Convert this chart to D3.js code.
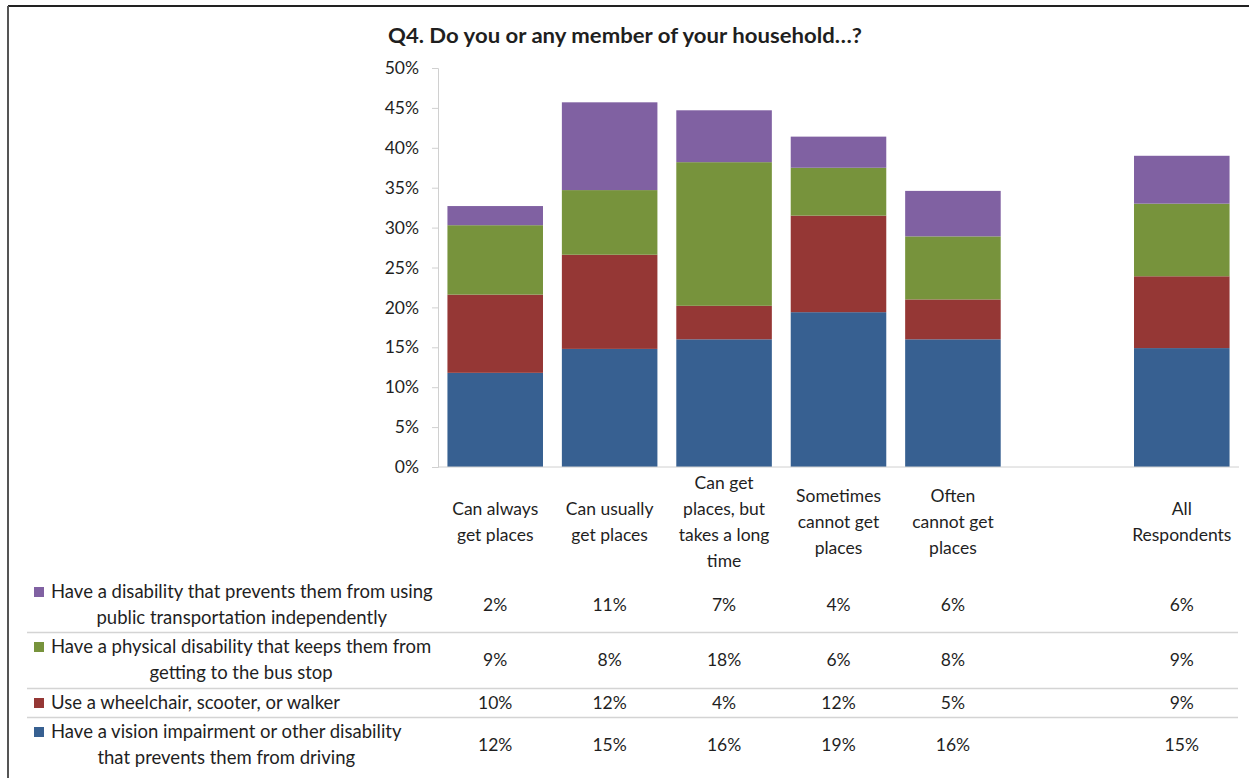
<!DOCTYPE html>
<html>
<head>
<meta charset="utf-8">
<script src="https://cdn.jsdelivr.net/npm/d3@7"></script>
<style>
  html, body { margin: 0; padding: 0; background: #fff; }
  svg { display: block; }
  text { font-family: Lato, "Open Sans", sans-serif; fill: #1f1f1f; }
</style>
</head>
<body>
<svg id="chart" width="1249" height="778"></svg>
<script>
// ---- data ----
const categories = [
  "Can always get places",
  "Can usually get places",
  "Can get places, but takes a long time",
  "Sometimes cannot get places",
  "Often cannot get places",
  "",
  "All Respondents"
];
const categoryLines = [
  ["Can always", "get places"],
  ["Can usually", "get places"],
  ["Can get", "places, but", "takes a long", "time"],
  ["Sometimes", "cannot get", "places"],
  ["Often", "cannot get", "places"],
  [],
  ["All", "Respondents"]
];
const seriesNames = [
  "Have a vision impairment or other disability that prevents them from driving",
  "Use a wheelchair, scooter, or walker",
  "Have a physical disability that keeps them from getting to the bus stop",
  "Have a disability that prevents them from using public transportation independently"
];
const seriesLabelLines = [
  ["Have a vision impairment or other disability", "that prevents them from driving"],
  ["Use a wheelchair, scooter, or walker"],
  ["Have a physical disability that keeps them from", "getting to the bus stop"],
  ["Have a disability that prevents them from using", "public transportation independently"]
];
// values in percent, per category (null = empty gap column)
const vision     = [11.8, 14.8, 16.0, 19.4, 16.0, null, 14.9];
const wheelchair = [9.8, 11.8, 4.2, 12.1, 5.0, null, 9.0];
const physical   = [8.7, 8.1, 18.0, 6.0, 7.9, null, 9.1];
const transit    = [2.4, 11.0, 6.5, 3.9, 5.7, null, 6.0];
// table labels (as printed)
const visionLbl     = ["12%", "15%", "16%", "19%", "16%", "", "15%"];
const wheelchairLbl = ["10%", "12%", "4%", "12%", "5%", "", "9%"];
const physicalLbl   = ["9%", "8%", "18%", "6%", "8%", "", "9%"];
const transitLbl    = ["2%", "11%", "7%", "4%", "6%", "", "6%"];
const yTicks = [0, 5, 10, 15, 20, 25, 30, 35, 40, 45, 50];
const title = "Q4. Do you or any member of your household…?";

const colors = ["#376091", "#953735", "#77933C", "#8061A2"];
const seriesValues = [vision, wheelchair, physical, transit];
const seriesLabels = [visionLbl, wheelchairLbl, physicalLbl, transitLbl];

// ---- layout ----
const svg = d3.select("#chart");
const plotLeft = 438, plotRight = 1239, plotTop = 68, plotBottom = 467;

const x = d3.scaleBand().domain(d3.range(categories.length))
  .range([plotLeft, plotRight]).paddingInner(0.165).paddingOuter(0.0825);
const y = d3.scaleLinear().domain([0, 50]).range([plotBottom, plotTop]);

// frame
svg.append("line").attr("x1", 8).attr("x2", 1249).attr("y1", 6).attr("y2", 6)
  .attr("stroke", "#222").attr("stroke-width", 2);
svg.append("line").attr("x1", 8).attr("x2", 8).attr("y1", 6).attr("y2", 778)
  .attr("stroke", "#555").attr("stroke-width", 2);

// title
svg.append("text").attr("x", 625).attr("y", 43).attr("text-anchor", "middle")
  .attr("font-weight", "bold").attr("font-size", 21.5).attr("textLength", 474)
  .attr("lengthAdjust", "spacingAndGlyphs").text(title);

// y axis
const yAxis = d3.axisLeft(y).tickValues(yTicks).tickFormat(d => d + "%").tickSize(6).tickPadding(13);
const gy = svg.append("g").attr("transform", `translate(${plotLeft},0)`).call(yAxis);
gy.select(".domain").attr("stroke", "#d0d0d0");
gy.selectAll(".tick line").attr("stroke", "#d0d0d0");
gy.selectAll(".tick text").attr("font-size", 17.5).attr("font-family", "Lato, sans-serif").attr("fill", "#1f1f1f");

// stacked bars
const rows = categories.map((c, i) => {
  const o = { i };
  seriesValues.forEach((s, k) => o["s" + k] = s[i] == null ? 0 : s[i]);
  return o;
});
const stack = d3.stack().keys(seriesValues.map((s, k) => "s" + k));
const stacked = stack(rows);
svg.append("g").selectAll("g").data(stacked).join("g")
  .attr("fill", (d, k) => colors[k])
  .selectAll("rect").data(d => d.filter(p => categories[p.data.i] !== "")).join("rect")
  .attr("x", p => x(p.data.i))
  .attr("width", x.bandwidth())
  .attr("y", p => y(p[1]))
  .attr("height", p => y(p[0]) - y(p[1]));

// x baseline
svg.append("line").attr("x1", plotLeft).attr("x2", plotRight).attr("y1", plotBottom).attr("y2", plotBottom)
  .attr("stroke", "#d0d0d0");

// category labels
const lh = 26;
categoryLines.forEach((lines, i) => {
  const cx = x(i) + x.bandwidth() / 2;
  const startY = 522 - (lines.length - 1) * lh / 2;
  lines.forEach((ln, j) => {
    svg.append("text").attr("x", cx).attr("y", startY + j * lh)
      .attr("dy", "0.35em").attr("text-anchor", "middle").attr("font-size", 17.5).text(ln);
  });
});

// data table (rows top to bottom: transit, physical, wheelchair, vision)
const tableRows = [
  { k: 3, lineY: [592, 618], valY: 605 },
  { k: 2, lineY: [647, 673], valY: 660 },
  { k: 1, lineY: [703], valY: 703 },
  { k: 0, lineY: [732, 758], valY: 745 }
];
const sepY = [632.5, 688.5, 717.5];
sepY.forEach(yy => svg.append("line").attr("x1", 27).attr("x2", 1238)
  .attr("y1", yy).attr("y2", yy).attr("stroke", "#d4d4d4").attr("stroke-width", 1.5));

const labelLeft = 51;
tableRows.forEach(r => {
  const lines = seriesLabelLines[r.k];
  const g = svg.append("g");
  const texts = lines.map((ln, j) => g.append("text").attr("y", r.lineY[j]).attr("dy", "0.35em")
    .attr("font-size", 18.5).attr("text-anchor", "middle").text(ln));
  const widths = texts.map(t => t.node().getComputedTextLength());
  const maxW = d3.max(widths);
  texts.forEach(t => t.attr("x", labelLeft + maxW / 2));
  // legend key
  const firstLeft = labelLeft + (maxW - widths[0]) / 2;
  svg.append("rect").attr("x", firstLeft - 17).attr("y", r.lineY[0] - 5)
    .attr("width", 10).attr("height", 10).attr("fill", colors[r.k]);
  // values
  seriesLabels[r.k].forEach((v, i) => {
    if (v === "") return;
    svg.append("text").attr("x", x(i) + x.bandwidth() / 2).attr("y", r.valY).attr("dy", "0.35em")
      .attr("text-anchor", "middle").attr("font-size", 17.5).text(v);
  });
});
</script>
</body>
</html>
